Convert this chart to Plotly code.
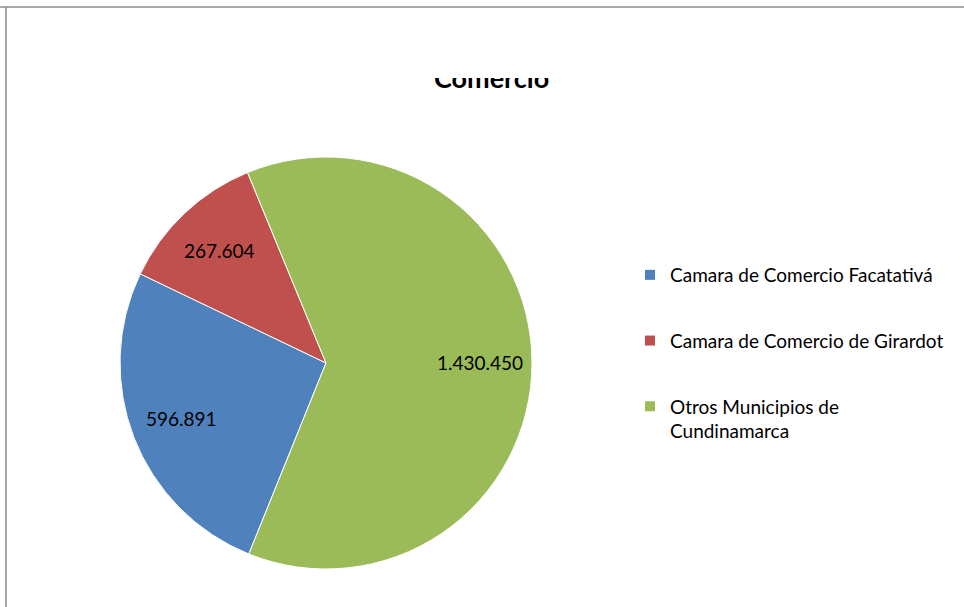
import math
import plotly.graph_objects as go

categories = ["Camara de Comercio Facatativá", "Camara de Comercio de Girardot", "Otros Municipios de Cundinamarca"]
legend_labels = ["Camara de Comercio Facatativá", "Camara de Comercio de Girardot", "Otros Municipios de<br>Cundinamarca"]
values = [596891, 267604, 1430450]
colors = ["#4F81BD", "#C0504D", "#9BBB59"]
title_text = "Comercio"

FONT = "Lato"
W, H = 964, 607
ROT = 202
CX, CY, R = 326, 363, 206

fig = go.Figure()
fig.add_trace(go.Pie(
    labels=categories, values=values, sort=False, direction="clockwise",
    rotation=ROT,
    marker=dict(colors=colors, line=dict(color="white", width=1)),
    textinfo="none",
    showlegend=False,
    domain=dict(x=[(CX - R) / W, (CX + R) / W], y=[1 - (CY + R) / H, 1 - (CY - R) / H]),
))
for i, (lab, col) in enumerate(zip(legend_labels, colors)):
    fig.add_trace(go.Scatter(
        x=[None], y=[None], mode="markers", name=lab, legendgroup=f"g{i}",
        marker=dict(symbol="square", size=10, color=col),
    ))

# data labels placed along each slice's mid-angle (derived from the values)
total = sum(values)
annotations = []
start = ROT
for v in values:
    span = 360 * v / total
    mid = math.radians(start + span / 2)
    px = CX + 0.75 * R * math.sin(mid)
    py = CY - 0.75 * R * math.cos(mid)
    annotations.append(dict(
        text=f"{v:,}".replace(",", "."), xref="paper", yref="paper",
        x=px / W, y=1 - py / H, showarrow=False, xanchor="center", yanchor="middle",
        font=dict(family=FONT, size=19, color="black"),
    ))
    start += span

annotations.append(dict(
    text=f"<b>{title_text}</b>", xref="paper", yref="paper", x=492 / W, y=1 - 96 / H,
    xanchor="center", yanchor="bottom", valign="bottom", height=16, showarrow=False,
    font=dict(family=FONT, size=27, color="black"),
))

fig.update_layout(
    width=W, height=H, margin=dict(l=0, r=0, t=0, b=0),
    paper_bgcolor="white", plot_bgcolor="white",
    separators=",.",
    xaxis=dict(visible=False), yaxis=dict(visible=False),
    legend=dict(x=630 / W, y=1 - 256 / H, xanchor="left", yanchor="top",
                font=dict(family=FONT, size=19, color="black"),
                tracegroupgap=38, valign="top", bgcolor="rgba(0,0,0,0)"),
    shapes=[
        dict(type="line", xref="paper", yref="paper", x0=0, x1=1, y0=1 - 7 / H, y1=1 - 7 / H,
             line=dict(color="#8C8C8C", width=1.5)),
        dict(type="line", xref="paper", yref="paper", x0=6 / W, x1=6 / W, y0=0, y1=1 - 7 / H,
             line=dict(color="#8C8C8C", width=1.5)),
    ],
    annotations=annotations,
)
fig.write_html("out.html", config={"displayModeBar": False},
               post_script="document.body.style.margin='0px';")
